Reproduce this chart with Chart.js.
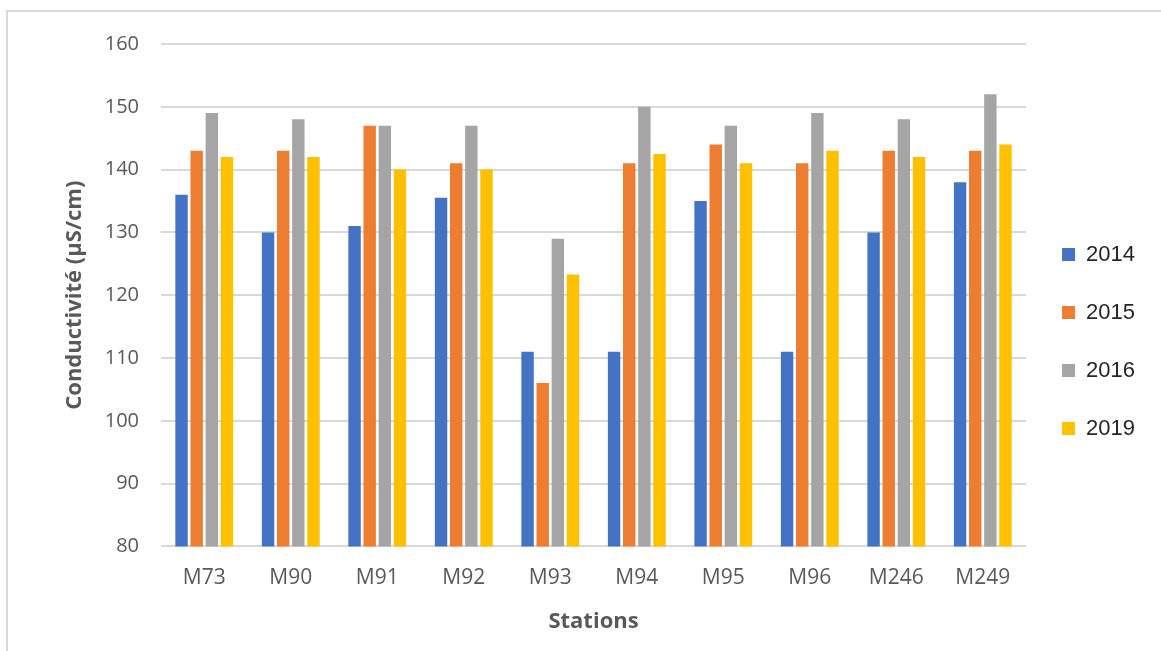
<!DOCTYPE html>
<html>
<head>
<meta charset="utf-8">
<script src="https://cdn.jsdelivr.net/npm/chart.js@4/dist/chart.umd.min.js"></script>
<style>
  html, body { margin: 0; padding: 0; background: #ffffff; }
  #frame { position: absolute; left: 6px; top: 10px; width: 1200px; height: 700px;
           border-left: 2px solid #d9d9d9; border-top: 2px solid #d9d9d9; }
  #wrap { position: absolute; left: 0; top: 0; width: 1161px; height: 651px; }
</style>
</head>
<body>
<div id="frame"></div>
<div id="wrap"><canvas id="c" width="1161" height="651"></canvas></div>
<script>
const stations = ["M73", "M90", "M91", "M92", "M93", "M94", "M95", "M96", "M246", "M249"];
const years = ["2014", "2015", "2016", "2019"];
const values2014 = [136, 130, 131, 135.5, 111, 111, 135, 111, 130, 138];
const values2015 = [143, 143, 147, 141, 106, 141, 144, 141, 143, 143];
const values2016 = [149, 148, 147, 147, 129, 150, 147, 149, 148, 152];
const values2019 = [142, 142, 140, 140, 123.3, 142.5, 141, 143, 142, 144];
const yTicks = [80, 90, 100, 110, 120, 130, 140, 150, 160];
const colors = ["#4472C4", "#ED7D31", "#A5A5A5", "#FFC000"];

const series = [values2014, values2015, values2016, values2019];

new Chart(document.getElementById("c"), {
  type: "bar",
  data: {
    labels: stations,
    datasets: series.map((vals, i) => ({
      label: years[i],
      data: vals,
      backgroundColor: colors[i],
      borderWidth: 0,
      categoryPercentage: 0.7,
      barPercentage: 0.82
    }))
  },
  options: {
    responsive: false,
    animation: false,
    layout: { padding: { top: 44, bottom: 12, left: 58, right: 16 } },
    plugins: {
      tooltip: { enabled: false },
      legend: {
        position: "right",
        align: "center",
        labels: {
          boxWidth: 13,
          boxHeight: 13,
          padding: 36,
          color: "#262626",
          font: { family: "'Liberation Sans', Arial, sans-serif", size: 22 }
        }
      }
    },
    scales: {
      x: {
        grid: { display: false },
        border: { display: false },
        ticks: {
          color: "#595959",
          padding: 11,
          font: { family: "'Open Sans', sans-serif", size: 21 }
        },
        title: {
          display: true,
          text: "Stations",
          color: "#595959",
          padding: { top: 7, bottom: 4 },
          font: { family: "'Open Sans', sans-serif", size: 22, weight: "bold" }
        }
      },
      y: {
        min: 80,
        max: 160,
        afterBuildTicks: (scale) => { scale.ticks = yTicks.map(v => ({ value: v })); },
        afterFit: (scale) => { scale.width = 103; },
        grid: { color: "#d9d9d9", lineWidth: 2, drawTicks: false },
        border: { display: false },
        ticks: {
          color: "#595959",
          padding: 22,
          font: { family: "'Open Sans', sans-serif", size: 20 }
        },
        title: {
          display: true,
          text: "Conductivité (µS/cm)",
          color: "#595959",
          padding: { top: 4, bottom: 4 },
          font: { family: "'Open Sans', sans-serif", size: 22, weight: "bold" }
        }
      }
    }
  }
});
</script>
</body>
</html>
